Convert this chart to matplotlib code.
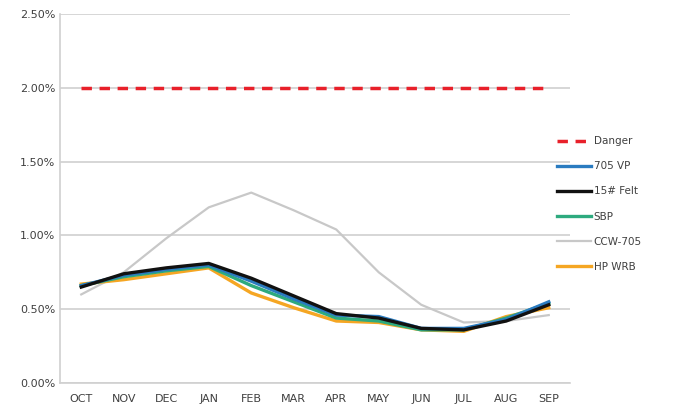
import matplotlib
matplotlib.use("Agg")
import matplotlib.pyplot as plt
from matplotlib.ticker import FuncFormatter, MultipleLocator

months = ["OCT", "NOV", "DEC", "JAN", "FEB", "MAR", "APR", "MAY", "JUN", "JUL", "AUG", "SEP"]

# moisture content, percent
danger = [2.00] * 12
vp705 = [0.66, 0.73, 0.77, 0.80, 0.69, 0.57, 0.46, 0.45, 0.37, 0.37, 0.43, 0.55]
felt15 = [0.65, 0.74, 0.78, 0.81, 0.71, 0.59, 0.47, 0.44, 0.37, 0.36, 0.42, 0.53]
sbp = [0.66, 0.72, 0.76, 0.79, 0.66, 0.55, 0.44, 0.42, 0.36, 0.36, 0.44, 0.54]
ccw705 = [0.60, 0.75, 0.98, 1.19, 1.29, 1.17, 1.04, 0.75, 0.53, 0.41, 0.42, 0.46]
hpwrb = [0.67, 0.70, 0.74, 0.78, 0.61, 0.51, 0.42, 0.41, 0.36, 0.35, 0.45, 0.51]

TEXT = "#404040"
GRID = "#d0d0d0"

plt.rcParams["font.family"] = "DejaVu Sans"

fig = plt.figure(figsize=(6.9, 4.11), dpi=100)
ax = fig.add_axes([60 / 690, 1 - 383 / 411, 510 / 690, 369 / 411])

x = list(range(len(months)))
ax.plot(x, danger, color="#e8202a", lw=2.5, dashes=(3, 2.2), label="Danger", zorder=3)
ax.plot(x, ccw705, color="#c8c8c8", lw=1.6, label="CCW-705", zorder=2)
ax.plot(x, hpwrb, color="#f5a623", lw=2.4, label="HP WRB", zorder=3)
ax.plot(x, sbp, color="#2eaa7e", lw=2.4, label="SBP", zorder=3)
ax.plot(x, vp705, color="#2a7bc0", lw=2.4, label="705 VP", zorder=4)
ax.plot(x, felt15, color="#111111", lw=2.4, label="15# Felt", zorder=4)

ax.set_xlim(-0.5, 11.5)
ax.set_ylim(0, 2.5)
ax.yaxis.set_major_locator(MultipleLocator(0.5))
ax.yaxis.set_major_formatter(FuncFormatter(lambda v, p: f"{v:.2f}%"))
ax.set_xticks(x)
ax.set_xticklabels(months)
ax.tick_params(axis="both", labelsize=8, colors=TEXT, length=0)
ax.tick_params(axis="x", pad=8)
ax.grid(True, axis="y", color=GRID, lw=1.2)
ax.set_axisbelow(True)
for s in ["top", "right"]:
    ax.spines[s].set_visible(False)
ax.spines["left"].set_color(GRID)
ax.spines["bottom"].set_color(GRID)
ax.spines["left"].set_linewidth(1.2)
ax.spines["bottom"].set_linewidth(1.2)

handles, labels = ax.get_legend_handles_labels()
order = ["Danger", "705 VP", "15# Felt", "SBP", "CCW-705", "HP WRB"]
hmap = dict(zip(labels, handles))
leg = fig.legend([hmap[k] for k in order], order, loc="center left",
                 bbox_to_anchor=(548 / 690, 1 - 204 / 411), frameon=False,
                 fontsize=7.5, handlelength=3.2, handletextpad=0.3,
                 labelspacing=1.45)
for t in leg.get_texts():
    t.set_color(TEXT)

fig.savefig("out.png", dpi=100, facecolor="white")
